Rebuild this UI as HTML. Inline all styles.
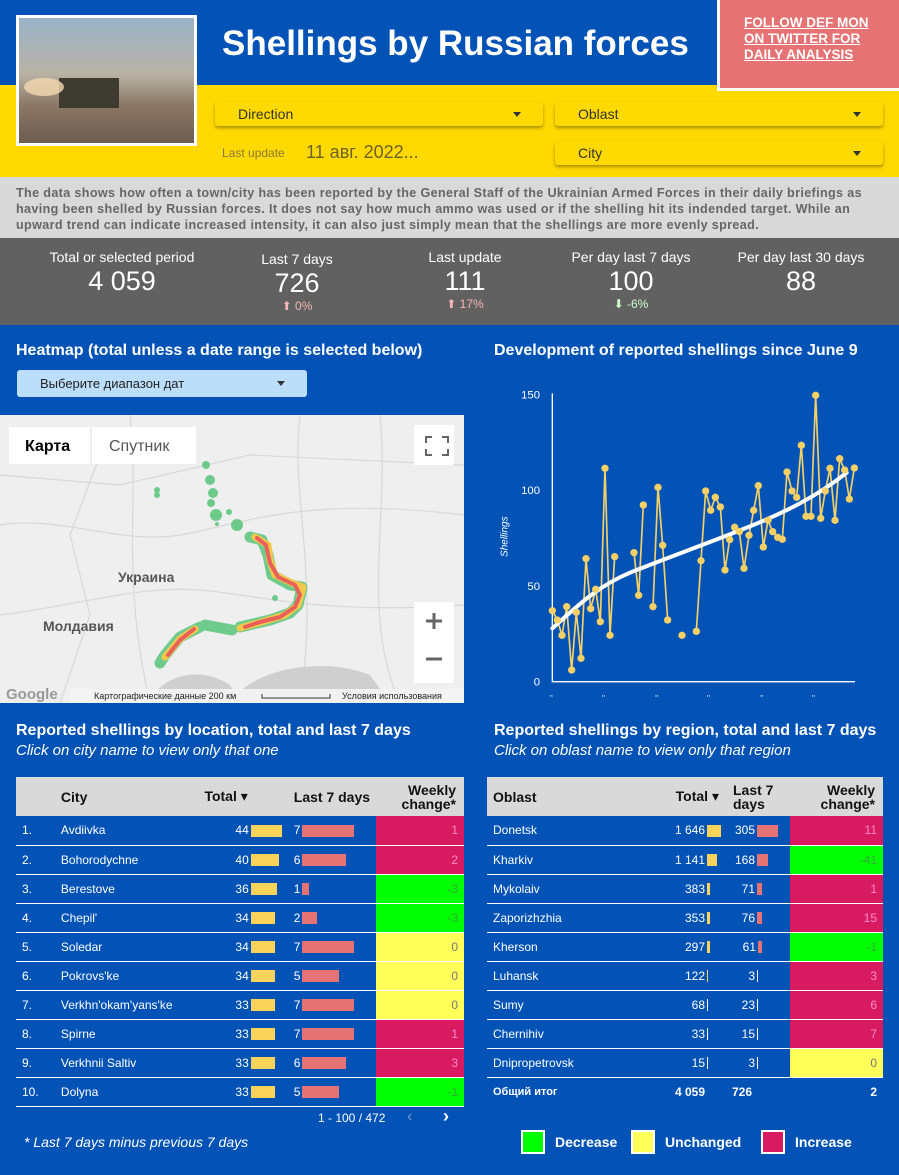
<!DOCTYPE html>
<html><head><meta charset="utf-8"><style>
*{margin:0;padding:0;box-sizing:border-box}
body{width:899px;height:1175px;position:relative;background:#0353b7;font-family:"Liberation Sans","DejaVu Sans",sans-serif;overflow:hidden;color:#fff}
.a{position:absolute}
.dd{position:absolute;background:#ffd900;box-shadow:0 2px 3px rgba(0,0,0,.35);border-radius:3px;color:#333;font-size:14px;padding:4px 0 0 23px;height:24px}
.dd:after{content:"";position:absolute;right:22px;top:10px;border:4px solid transparent;border-top:5px solid #333}
.st{position:absolute;text-align:center;top:249px;width:180px;font-size:14px;color:#fff}
.st b{display:block;font-weight:normal;font-size:27px;line-height:32px}
.st i{display:block;font-style:normal;font-size:12px;color:#f4b6b6}
table{border-collapse:collapse;font-size:12px;position:absolute}
td,th{height:29px;padding:0 6px;border-bottom:1px solid #fff;white-space:nowrap}
th{background:#d9d9d9;color:#111;height:39px;font-size:14px;border:none;text-align:left}
.r{text-align:right}
.bar{display:inline-block;height:12px;vertical-align:middle;margin-left:2px}
.y{background:#fbd25a}.p{background:#e57373}
.inc{background:#d81b60;color:#f8c;text-align:right}
.dec{background:#00ff00;color:#3a3;text-align:right}
.unc{background:#ffff59;color:#777;text-align:right}
</style></head><body>
<div class="a" style="left:0;top:0;width:899px;height:85px;background:#0353b7"></div>
<div class="a" style="left:0;top:85px;width:899px;height:92px;background:#ffd900"></div>
<div class="a" style="left:16px;top:15px;width:181px;height:131px;background:#fff;padding:3px">
 <div style="width:100%;height:100%;background:linear-gradient(180deg,#9ab3c8 0%,#b9b2a4 45%,#8a7766 70%,#6d5d50 100%);position:relative">
  <div class="a" style="left:40px;top:60px;width:60px;height:30px;background:#3d3a30"></div>
  <div class="a" style="left:5px;top:60px;width:40px;height:18px;background:#f4d8b0;border-radius:50%;opacity:.8"></div>
 </div></div>
<div class="a" style="left:222px;top:24px;font-size:35px;font-weight:bold;color:#fff;letter-spacing:0px">Shellings by Russian forces</div>
<div class="a" style="left:717px;top:0;width:182px;height:91px;background:#e57373;border:3px solid #fff;border-top:none;border-right:none"></div>
<div class="a" style="left:744px;top:15px;font-size:13.5px;font-weight:bold;color:#fff;text-decoration:underline;line-height:16px">FOLLOW DEF MON<br>ON TWITTER FOR<br>DAILY ANALYSIS</div>
<div class="dd" style="left:215px;top:102px;width:328px">Direction</div>
<div class="dd" style="left:555px;top:102px;width:328px">Oblast</div>
<div class="dd" style="left:555px;top:141px;width:328px">City</div>
<div class="a" style="left:222px;top:146px;font-size:12px;color:#8a7a3a">Last update</div>
<div class="a" style="left:306px;top:142px;font-size:18px;color:#6d6226">11 авг. 2022...</div>
<div class="a" style="left:0;top:177px;width:899px;height:61px;background:#d9d9d9"></div>
<div class="a" style="left:16px;top:185px;width:880px;font-size:12.6px;letter-spacing:0.35px;font-weight:bold;color:#666;line-height:16px;white-space:nowrap">The data shows how often a town/city has been reported by the General Staff of the Ukrainian Armed Forces in their daily briefings as<br>having been shelled by Russian forces. It does not say how much ammo was used or if the shelling hit its indended target. While an<br>upward trend can indicate increased intensity, it can also just simply mean that the shellings are more evenly spread.</div>
<div class="a" style="left:0;top:238px;width:899px;height:87px;background:#616161"></div>
<div class="st" style="left:32px">Total or selected period<b>4 059</b></div>
<div class="st" style="left:207px;top:251px">Last 7 days<b>726</b><i>⬆ 0%</i></div>
<div class="st" style="left:375px">Last update<b>111</b><i>⬆ 17%</i></div>
<div class="st" style="left:541px">Per day last 7 days<b>100</b><i style="color:#cfc">⬇ -6%</i></div>
<div class="st" style="left:711px">Per day last 30 days<b>88</b></div>

<div class="a" style="left:16px;top:342px;font-size:16px;font-weight:bold">Heatmap (total unless a date range is selected below)</div>
<div class="a" style="left:17px;top:370px;width:290px;height:27px;background:#bbdefb;border-radius:3px;color:#222;font-size:13px;padding:6px 0 0 23px">Выберите диапазон дат<span style="position:absolute;right:22px;top:11px;border:4px solid transparent;border-top:5px solid #333"></span></div>
<div class="a" style="left:494px;top:342px;font-size:16px;font-weight:bold">Development of reported shellings since June 9</div>

<svg class="a" style="left:0;top:415px" width="464" height="288" viewBox="0 0 464 288">
<rect width="464" height="288" fill="#efefef"/>
<g fill="none" stroke="#d8d8d8" stroke-width="1.2">
<path d="M0 110 C60 100 120 130 180 120 S300 80 464 100"/><path d="M0 200 C80 190 140 170 200 175 S320 200 464 190"/>
<path d="M130 0 C140 80 120 160 150 288"/><path d="M300 0 C290 80 320 160 300 288"/><path d="M380 0 C390 100 360 200 400 288"/>
<path d="M0 60 L120 70 L250 40 L464 50"/><path d="M60 288 L90 200 L70 120 L100 40"/></g>
<path d="M150 288 C160 260 200 250 230 270 L240 288Z M230 288 C250 255 320 240 370 260 L390 288Z" fill="#cfcfcf"/>
<g fill="#58c47a" opacity=".85"><circle cx="206" cy="50" r="4"/><circle cx="210" cy="65" r="5"/><circle cx="213" cy="78" r="5"/><circle cx="211" cy="88" r="4"/><circle cx="216" cy="100" r="6"/><circle cx="229" cy="97" r="3"/><circle cx="237" cy="110" r="6"/><circle cx="157" cy="75" r="3"/><circle cx="157" cy="80" r="3"/><circle cx="217" cy="109" r="2"/><circle cx="275" cy="183" r="3"/></g>
<g fill="none" stroke-linecap="round" stroke-linejoin="round">
<path d="M250 122 L262 125 L268 140 L272 160 L290 170 L302 172 L298 190 L290 198 L270 205 L240 212 M232 215 L205 210 M200 212 L180 222 L165 240 L160 248" stroke="#58c47a" stroke-width="11" opacity=".85"/>
<path d="M255 122 L268 130 L270 145 L275 160 L292 168 L303 172 L298 190 L285 200 L265 206 L240 213 M195 214 L180 224 L165 242" stroke="#f2c84b" stroke-width="7"/>
<path d="M257 123 L266 130 L270 148 L278 162 L295 170 L300 180 L295 192 L280 202 L260 207 L245 212 M194 214 L180 225 L168 240" stroke="#e8605a" stroke-width="4"/>
</g>
<text x="118" y="167" font-size="14" font-weight="bold" fill="#555">Украина</text>
<text x="43" y="216" font-size="14" font-weight="bold" fill="#555">Молдавия</text>
<rect x="9" y="12" width="187" height="37" fill="#fff"/><line x1="91" y1="12" x2="91" y2="49" stroke="#ddd"/>
<text x="25" y="36" font-size="16" fill="#000" font-weight="bold">Карта</text><text x="109" y="36" font-size="16" fill="#555">Спутник</text>
<rect x="414" y="10" width="40" height="40" fill="#fff"/><path d="M426 28v-6h6M442 22h6v6M448 34v6h-6M432 40h-6v-6" stroke="#666" stroke-width="2" fill="none"/>
<rect x="414" y="187" width="40" height="81" fill="#fff"/><path d="M426 206h16M434 198v16M426 244h16" stroke="#666" stroke-width="3"/>
<rect x="70" y="274" width="394" height="14" fill="#f4f4f4" opacity=".9"/>
<text x="6" y="284" font-size="15" fill="#999" font-weight="bold">Google</text>
<text x="94" y="284" font-size="9" fill="#222">Картографические данные   200 км</text>
<path d="M262 279v4h68v-4" stroke="#333" fill="none"/>
<text x="342" y="284" font-size="9" fill="#222">Условия использования</text>
</svg>

<svg class="a" style="left:490px;top:380px" width="400" height="320" viewBox="0 0 1200 960">
<g fill="#fff" font-size="34"><text x="150" y="55" text-anchor="end">150</text><text x="150" y="342" text-anchor="end">100</text><text x="150" y="630" text-anchor="end">50</text><text x="150" y="917" text-anchor="end">0</text></g>
<text transform="translate(52 470) rotate(-90)" fill="#fff" font-size="30" font-style="italic" text-anchor="middle">Shellings</text>
<path d="M187 40V905H1095" stroke="#fff" stroke-width="4" fill="none"/>
<g fill="#fff" font-size="24"><text x="178" y="948">‚‚</text><text x="335" y="948">‚‚</text><text x="495" y="948">‚‚</text><text x="650" y="948">‚‚</text><text x="810" y="948">‚‚</text><text x="965" y="948">‚‚</text></g>
<g fill="none" stroke="#f5d066" stroke-width="5">
<polyline points="187,692 202,720 216,766 230,680 245,870 259,697 273,835 288,536 302,686 317,628 331,725 345,265 360,766 374,530"/>
<polyline points="432,518 446,646 460,375"/><polyline points="489,680 504,322 518,496 533,720"/>
<polyline points="619,754 633,542 647,333 662,391 676,352 691,381 705,570 719,479 734,442 748,455 762,565 777,466 791,391 805,317 820,501 834,421 848,455 863,472 877,478 891,276 906,333 920,352 934,196 948,409 963,409 977,46 992,415 1006,333 1020,265 1035,421 1049,236 1064,270 1078,357 1093,264"/>
</g>
<path d="M187 745 C260 680 320 620 420 578 C540 530 640 495 760 447 C880 400 980 350 1070 278" stroke="#fff" stroke-width="12" fill="none" stroke-linecap="round"/>
<g fill="#f5d066">
<circle cx="187" cy="692" r="11"/><circle cx="202" cy="720" r="11"/><circle cx="216" cy="766" r="11"/><circle cx="230" cy="680" r="11"/><circle cx="245" cy="870" r="11"/><circle cx="259" cy="697" r="11"/><circle cx="273" cy="835" r="11"/><circle cx="288" cy="536" r="11"/><circle cx="302" cy="686" r="11"/><circle cx="317" cy="628" r="11"/><circle cx="331" cy="725" r="11"/><circle cx="345" cy="265" r="11"/><circle cx="360" cy="766" r="11"/><circle cx="374" cy="530" r="11"/><circle cx="432" cy="518" r="11"/><circle cx="446" cy="646" r="11"/><circle cx="460" cy="375" r="11"/><circle cx="489" cy="680" r="11"/><circle cx="504" cy="322" r="11"/><circle cx="518" cy="496" r="11"/><circle cx="533" cy="720" r="11"/><circle cx="576" cy="766" r="11"/><circle cx="619" cy="754" r="11"/><circle cx="633" cy="542" r="11"/><circle cx="647" cy="333" r="11"/><circle cx="662" cy="391" r="11"/><circle cx="676" cy="352" r="11"/><circle cx="691" cy="381" r="11"/><circle cx="705" cy="570" r="11"/><circle cx="719" cy="479" r="11"/><circle cx="734" cy="442" r="11"/><circle cx="748" cy="455" r="11"/><circle cx="762" cy="565" r="11"/><circle cx="777" cy="466" r="11"/><circle cx="791" cy="391" r="11"/><circle cx="805" cy="317" r="11"/><circle cx="820" cy="501" r="11"/><circle cx="834" cy="421" r="11"/><circle cx="848" cy="455" r="11"/><circle cx="863" cy="472" r="11"/><circle cx="877" cy="478" r="11"/><circle cx="891" cy="276" r="11"/><circle cx="906" cy="333" r="11"/><circle cx="920" cy="352" r="11"/><circle cx="934" cy="196" r="11"/><circle cx="948" cy="409" r="11"/><circle cx="963" cy="409" r="11"/><circle cx="977" cy="46" r="11"/><circle cx="992" cy="415" r="11"/><circle cx="1006" cy="333" r="11"/><circle cx="1020" cy="265" r="11"/><circle cx="1035" cy="421" r="11"/><circle cx="1049" cy="236" r="11"/><circle cx="1064" cy="270" r="11"/><circle cx="1078" cy="357" r="11"/><circle cx="1093" cy="264" r="11"/>
</g></svg>

<div class="a" style="left:16px;top:722px;font-size:16px;font-weight:bold">Reported shellings by location, total and last 7 days</div>
<div class="a" style="left:16px;top:742px;font-size:15px;font-style:italic">Click on city name to view only that one</div>
<div class="a" style="left:494px;top:722px;font-size:16px;font-weight:bold">Reported shellings by region, total and last 7 days</div>
<div class="a" style="left:494px;top:742px;font-size:15px;font-style:italic">Click on oblast name to view only that region</div>

<table style="left:16px;top:777px;width:448px">
<tr><th style="width:40px"></th><th style="width:140px">City</th><th class="r" style="width:95px;padding-right:40px">Total ▾</th><th style="width:83px">Last 7 days</th><th class="r" style="width:90px;line-height:14px;padding-right:8px">Weekly<br>change*</th></tr>
<tr><td>1.</td><td>Avdiivka</td><td class="r" style="padding-right:0">44<span class="bar y" style="width:31px;margin-right:6px"></span></td><td>7<span class="bar p" style="width:52px"></span></td><td class="inc">1</td></tr>
<tr><td>2.</td><td>Bohorodychne</td><td class="r" style="padding-right:0">40<span class="bar y" style="width:28px;margin-right:9px"></span></td><td>6<span class="bar p" style="width:44px"></span></td><td class="inc">2</td></tr>
<tr><td>3.</td><td>Berestove</td><td class="r" style="padding-right:0">36<span class="bar y" style="width:26px;margin-right:11px"></span></td><td>1<span class="bar p" style="width:7px"></span></td><td class="dec">-3</td></tr>
<tr><td>4.</td><td>Chepil'</td><td class="r" style="padding-right:0">34<span class="bar y" style="width:24px;margin-right:13px"></span></td><td>2<span class="bar p" style="width:15px"></span></td><td class="dec">-3</td></tr>
<tr><td>5.</td><td>Soledar</td><td class="r" style="padding-right:0">34<span class="bar y" style="width:24px;margin-right:13px"></span></td><td>7<span class="bar p" style="width:52px"></span></td><td class="unc">0</td></tr>
<tr><td>6.</td><td>Pokrovs'ke</td><td class="r" style="padding-right:0">34<span class="bar y" style="width:24px;margin-right:13px"></span></td><td>5<span class="bar p" style="width:37px"></span></td><td class="unc">0</td></tr>
<tr><td>7.</td><td>Verkhn'okam'yans'ke</td><td class="r" style="padding-right:0">33<span class="bar y" style="width:24px;margin-right:13px"></span></td><td>7<span class="bar p" style="width:52px"></span></td><td class="unc">0</td></tr>
<tr><td>8.</td><td>Spirne</td><td class="r" style="padding-right:0">33<span class="bar y" style="width:24px;margin-right:13px"></span></td><td>7<span class="bar p" style="width:52px"></span></td><td class="inc">1</td></tr>
<tr><td>9.</td><td>Verkhnii Saltiv</td><td class="r" style="padding-right:0">33<span class="bar y" style="width:24px;margin-right:13px"></span></td><td>6<span class="bar p" style="width:44px"></span></td><td class="inc">3</td></tr>
<tr><td>10.</td><td>Dolyna</td><td class="r" style="padding-right:0">33<span class="bar y" style="width:24px;margin-right:13px"></span></td><td>5<span class="bar p" style="width:37px"></span></td><td class="dec">-1</td></tr>
</table>
<div class="a" style="left:318px;top:1111px;font-size:12px">1 - 100 / 472</div>
<div class="a" style="left:407px;top:1108px;font-size:16px;color:#7a9ad0">‹</div>
<div class="a" style="left:443px;top:1106px;font-size:18px;font-weight:bold">›</div>
<div class="a" style="left:24px;top:1134px;font-size:14px;font-style:italic">* Last 7 days minus previous 7 days</div>

<table style="left:487px;top:777px;width:396px">
<tr><th style="width:155px">Oblast</th><th class="r" style="width:85px;padding-right:8px">Total ▾</th><th style="width:63px;line-height:14px">Last 7<br>days</th><th class="r" style="width:93px;line-height:14px;padding-right:8px">Weekly<br>change*</th></tr>
<tr><td>Donetsk</td><td class="r">1 646<span class="bar y" style="width:14px"></span></td><td class="r" style="padding-right:12px">305<span class="bar p" style="width:21px"></span></td><td class="inc">11</td></tr>
<tr><td>Kharkiv</td><td class="r" style="padding-right:10px">1 141<span class="bar y" style="width:10px"></span></td><td class="r" style="padding-right:22px">168<span class="bar p" style="width:11px"></span></td><td class="dec">-41</td></tr>
<tr><td>Mykolaiv</td><td class="r" style="padding-right:17px">383<span class="bar y" style="width:3px"></span></td><td class="r" style="padding-right:28px">71<span class="bar p" style="width:5px"></span></td><td class="inc">1</td></tr>
<tr><td>Zaporizhzhia</td><td class="r" style="padding-right:17px">353<span class="bar y" style="width:3px"></span></td><td class="r" style="padding-right:28px">76<span class="bar p" style="width:5px"></span></td><td class="inc">15</td></tr>
<tr><td>Kherson</td><td class="r" style="padding-right:17px">297<span class="bar y" style="width:3px"></span></td><td class="r" style="padding-right:28px">61<span class="bar p" style="width:4px"></span></td><td class="dec">-1</td></tr>
<tr><td>Luhansk</td><td class="r" style="padding-right:19px">122<span class="bar y" style="width:1px"></span></td><td class="r" style="padding-right:32px">3<span class="bar p" style="width:1px;background:#fff"></span></td><td class="inc">3</td></tr>
<tr><td>Sumy</td><td class="r" style="padding-right:19px">68<span class="bar y" style="width:1px;background:#fff"></span></td><td class="r" style="padding-right:32px">23<span class="bar p" style="width:1px;background:#fff"></span></td><td class="inc">6</td></tr>
<tr><td>Chernihiv</td><td class="r" style="padding-right:19px">33<span class="bar y" style="width:1px;background:#fff"></span></td><td class="r" style="padding-right:32px">15<span class="bar p" style="width:1px;background:#fff"></span></td><td class="inc">7</td></tr>
<tr><td>Dnipropetrovsk</td><td class="r" style="padding-right:19px">15<span class="bar y" style="width:1px;background:#fff"></span></td><td class="r" style="padding-right:32px">3<span class="bar p" style="width:1px;background:#fff"></span></td><td class="unc">0</td></tr>
<tr style="font-weight:bold"><td style="border:none;font-size:11px">Общий итог</td><td class="r" style="border:none;padding-right:22px">4 059</td><td style="border:none;padding-left:5px">726</td><td class="r" style="border:none">2</td></tr>
</table>

<div class="a" style="left:521px;top:1130px;width:24px;height:24px;background:#00ff00;border:2px solid #fff"></div>
<div class="a" style="left:555px;top:1134px;font-size:14px;font-weight:bold">Decrease</div>
<div class="a" style="left:631px;top:1130px;width:24px;height:24px;background:#ffff59;border:2px solid #fff"></div>
<div class="a" style="left:665px;top:1134px;font-size:14px;font-weight:bold">Unchanged</div>
<div class="a" style="left:761px;top:1130px;width:24px;height:24px;background:#d81b60;border:2px solid #fff"></div>
<div class="a" style="left:795px;top:1134px;font-size:14px;font-weight:bold">Increase</div>
</body></html>
